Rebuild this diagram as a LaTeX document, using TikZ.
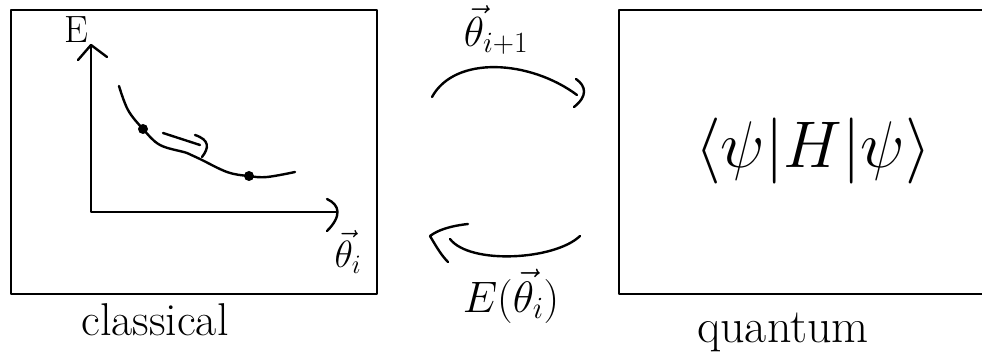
\RequirePackage{fix-cm}
\documentclass[tikz,border=0pt]{standalone}
\begin{document}
\begin{tikzpicture}[x=1pt,y=-1pt,line width=2.4pt,line cap=round,line join=round,
  panel/.style={draw,line width=2.2pt,anchor=north west,inner sep=0pt,minimum height=284pt},
  dotmark/.style={circle,fill,inner sep=0pt,minimum size=10pt},
  lbl/.style={inner sep=0pt}]
\useasboundingbox (0,0) rectangle (982,355);
% boxes
\node[panel,minimum width=366pt] (classical) at (10,9) {};
\node[panel,minimum width=380pt] (quantum) at (618,9) {};
% axes
\coordinate (O) at (91,212);
\coordinate (ytop) at (91,45);
\coordinate (xend) at (336,212);
\draw (ytop) -- (O) -- (xend);
\draw (78,60) -- (ytop) -- (107,57);
\draw (327,199) .. controls (340,205) and (342,216) .. (327,231);
\node[lbl,font=\fontsize{38}{40}\selectfont] (Elab) at (76,30) {E};
\node[lbl,font=\fontsize{38}{40}\selectfont] (thlab) at (348,252) {$\vec\theta_i$};
% energy curve
\draw plot[smooth,tension=0.6] coordinates {(119,86) (128,110) (143,129) (160,145) (187,153) (200,159) (227,172) (248,176) (267,177) (295,172)};
\node[dotmark] (d1) at (143,129) {};
\node[dotmark] (d2) at (249,176) {};
% small step arrow
\draw (163,133) -- (200,145);
\draw (195,135) .. controls (210,140) and (209,148) .. (202,157);
% top arc
\coordinate (ta) at (432,97);
\coordinate (tb) at (577,95);
\draw (ta) .. controls (455,55) and (530,60) .. (tb);
\draw (576,79) .. controls (586,86) and (588,96) .. (574,107);
\node[lbl,font=\fontsize{42}{44}\selectfont] (toplab) at (496,30) {$\vec\theta_{i+1}$};
% bottom arc
\coordinate (ba) at (580,236);
\coordinate (bb) at (450,239);
\draw (ba) .. controls (555,260) and (470,265) .. (bb);
\draw (468,224) .. controls (450,226) and (438,230) .. (430,236) .. controls (437,248) and (442,256) .. (448,262);
\node[lbl,font=\fontsize{44}{46}\selectfont] (botlab) at (511,296) {$E(\vec\theta_i)$};
% captions
\node[lbl,font=\fontsize{46}{48}\selectfont] (capc) at (155,320) {classical};
\node[lbl,font=\fontsize{48}{50}\selectfont] (capq) at (783,332) {quantum};
\node[lbl,font=\fontsize{66}{68}\selectfont] (expv) at (813,151) {$\langle\psi|H|\psi\rangle$};
\end{tikzpicture}
\end{document}
